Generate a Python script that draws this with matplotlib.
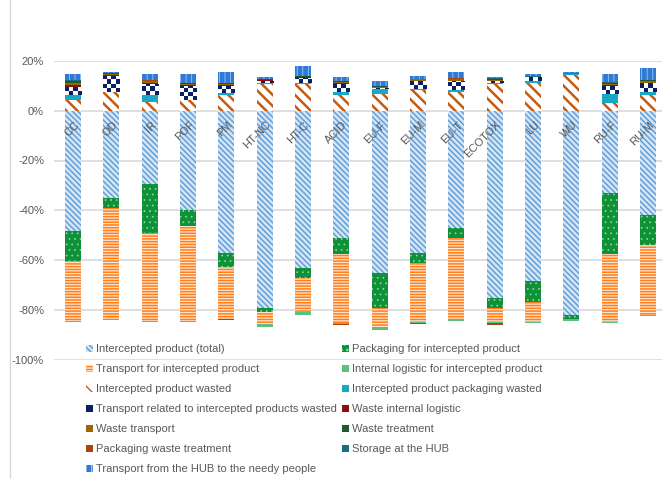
import numpy as np
import matplotlib
matplotlib.use("Agg")
import matplotlib.pyplot as plt
from matplotlib.lines import Line2D
from matplotlib.colors import ListedColormap
from matplotlib.ticker import FuncFormatter

plt.rcParams['font.family'] = ['Liberation Sans', 'DejaVu Sans']

# ---- data (% contribution per impact category) ----
categories = ["CC", "OD", "IR", "POF", "PM", "HT-NC", "HT-C", "ACID", "EU-F", "EU-M",
              "EU-T", "ECOTOX", "LU", "WU", "RU-F", "RU-M"]

intercepted_total = [-48.5, -34.9, -29.4, -39.8, -57.0, -79.4, -63.3, -51.2, -65.3, -57.3,
                     -47.2, -75.4, -68.3, -82.1, -33.1, -41.8]
packaging_intercepted = [-11.8, -4.1, -19.8, -6.7, -5.9, -1.7, -4.0, -6.3, -14.1, -4.0,
                         -4.0, -4.0, -8.4, -1.7, -24.4, -12.1]
transport_intercepted = [-24.4, -44.7, -35.5, -38.2, -20.8, -4.6, -13.8, -27.9, -8.0, -23.8,
                         -32.9, -5.7, -8.4, -0.2, -27.5, -28.2]
internal_logistic_intercepted = [-0.4, -0.4, -0.4, -0.4, -0.2, -1.3, -1.0, -0.2, -0.7, -0.2,
                                 -0.4, -0.3, -0.4, -0.5, -0.4, -0.5]
product_wasted = [4.3, 7.5, 3.5, 4.2, 6.4, 10.8, 10.9, 6.4, 6.7, 8.3,
                  7.7, 10.9, 11.2, 14.5, 3.2, 6.3]
packaging_wasted = [2.0, 0.2, 2.9, 0.3, 0.8, 0.3, 0.3, 1.1, 2.0, 0.6,
                    0.6, 0.3, 0.8, 0.3, 3.4, 1.3]
transport_wasted = [3.4, 6.2, 4.5, 5.5, 2.7, 1.0, 2.0, 3.4, 0.4, 3.0,
                    3.6, 0.7, 1.4, 0.1, 3.4, 3.4]
waste_internal_logistic = [0.8, 0.3, 0.3, 0.3, 0.3, 0.1, 0.2, 0.2, 0.2, 0.2,
                           0.2, 0.1, 0.1, 0.05, 0.3, 0.3]
waste_transport = [0.6, 0.6, 0.6, 0.6, 0.6, 0.2, 0.2, 0.6, 0.3, 0.5,
                   0.6, 0.3, 0.1, 0.05, 0.5, 0.6]
waste_treatment = [0.8, 0.3, 0.3, 0.2, 0.2, 0.3, 0.2, 0.2, 0.3, 0.2,
                   0.2, 0.4, 0.1, 0.05, 0.3, 0.3]
packaging_waste_treatment = [0.2, 0.1, 0.1, 0.1, -0.4, 0.05, 0.1, -0.6, 0.05, -0.3,
                             0.1, -0.8, 0.05, 0.05, 0.1, 0.1]
storage_hub = [0.2, 0.1, 0.2, 0.1, 0.1, 0.15, 0.1, 0.1, 0.1, 0.1,
               0.1, 0.3, 0.1, 0.05, 0.2, 0.2]
transport_hub_needy = [2.5, 0.3, 2.5, 3.3, 4.3, 0.5, 4.0, 1.4, 1.8, 1.2,
                       2.5, 0.6, 0.8, 0.3, 3.2, 4.5]

NAVY = "#0B1F65"
# label, values, face colour, hatch colour, hatch, hatch line width
series = [
    ("Intercepted product (total)", intercepted_total, "#D3E4F6", "#5B9BD5", "\\" * 6, 1.0),
    ("Packaging for intercepted product", packaging_intercepted, "#0F9137", "#8FD8A6", "...", 0.5),
    ("Transport for intercepted product", transport_intercepted, "#FF7F1E", "#FFE3CC", "------", 0.9),
    ("Internal logistic for intercepted product", internal_logistic_intercepted, "#5CC07E", None, None, 0),
    ("Intercepted product wasted", product_wasted, "white", "#C55A11", "\\" * 3, 1.8),
    ("Intercepted product packaging wasted", packaging_wasted, "#19A8C4", None, None, 0),
    ("Transport related to intercepted products wasted", transport_wasted, NAVY, None, None, 0),
    ("Waste internal logistic", waste_internal_logistic, "#8E0E0E", None, None, 0),
    ("Waste transport", waste_transport, "#9A6700", None, None, 0),
    ("Waste treatment", waste_treatment, "#1D5B2E", None, None, 0),
    ("Packaging waste treatment", packaging_waste_treatment, "#A8460F", None, None, 0),
    ("Storage at the HUB", storage_hub, "#1B6C80", None, None, 0),
    ("Transport from the HUB to the needy people", transport_hub_needy, "#2E7AD4", "#9CC6F2", "|||", 0.6),
]
CHECKER_SERIES = "Transport related to intercepted products wasted"

W, H = 662, 479
fig = plt.figure(figsize=(W / 100, H / 100), dpi=100)
ax = fig.add_axes([53.8 / W, 1 - 359.5 / H, 613.3 / W, 298.5 / H])
ax.set_xlim(-0.5, len(categories) - 0.5)
ax.set_ylim(-100, 20)

BAR_W = 0.42
# checker cell size: 4 cells across the bar width, square on screen
px_per_x = 613.3 / len(categories)
px_per_y = 298.5 / 120.0
cell_x = BAR_W / 4
cell_y = cell_x * px_per_x / px_per_y
checker_cmap = ListedColormap(["white", NAVY])

x = np.arange(len(categories))
pos_base = np.zeros(len(categories))
neg_base = np.zeros(len(categories))
handles = []
for label, vals, face, hcol, hatch, hlw in series:
    v = np.asarray(vals, dtype=float)
    bottom = np.where(v >= 0, pos_base, neg_base)
    edge = hcol if hatch else face
    bars = ax.bar(x, v, width=BAR_W, bottom=bottom, color=face, edgecolor=edge,
                  linewidth=0, hatch=hatch, label=label, zorder=2)
    if hatch:
        for b in bars:
            if hasattr(b, "set_hatch_linewidth"):
                b.set_hatch_linewidth(hlw)
    if label == CHECKER_SERIES:
        # navy/white checkerboard fill clipped to each bar segment
        for b in bars:
            x0, y0 = b.get_x(), b.get_y()
            h = b.get_height()
            if h <= 0:
                continue
            rows = int(np.ceil(h / cell_y)) + 1
            grid = (np.add.outer(np.arange(rows), np.arange(4)) % 2).astype(float)
            im = ax.imshow(grid, cmap=checker_cmap, vmin=0, vmax=1, origin="lower",
                           extent=(x0, x0 + BAR_W, y0, y0 + rows * cell_y),
                           interpolation="nearest", aspect="auto", zorder=2.1)
            im.set_clip_path(b)
    handles.append(bars)
    pos_base += np.where(v > 0, v, 0)
    neg_base += np.where(v < 0, v, 0)

ax.set_xlim(-0.5, len(categories) - 0.5)
ax.set_ylim(-100, 20)
ax.set_yticks(np.arange(-100, 21, 20))
ax.yaxis.set_major_formatter(FuncFormatter(lambda v, p: f"{v:.0f}%"))
ax.tick_params(axis="y", length=0, pad=7, labelsize=8, labelcolor="#595959")
ax.set_xticks([])
ax.yaxis.grid(True, color="#D9D9D9", linewidth=1.2)
ax.set_axisbelow(True)
for s in ax.spines.values():
    s.set_visible(False)

# rotated category names just below the zero line
for i, cat in enumerate(categories):
    ax.text(i + 0.03, -3.6, cat, rotation=45, ha="right", va="top",
            rotation_mode="anchor", fontsize=8, color="#595959", zorder=5)

# legend laid out row-wise in two columns
order = list(range(0, 13, 2)) + list(range(1, 13, 2))
fig.legend([handles[k] for k in order], [series[k][0] for k in order],
           ncol=2, loc="upper left", bbox_to_anchor=(86 / W, 1 - 344 / H),
           frameon=False, fontsize=8, labelcolor="#595959",
           handlelength=0.6, handleheight=0.6, handletextpad=0.3,
           columnspacing=0.45, labelspacing=0.9, borderpad=0, borderaxespad=0)

# chart-area border on the left
fig.add_artist(Line2D([10 / W, 10 / W], [0, 1], color="#D9D9D9", linewidth=1.0))

fig.savefig("out.png", dpi=100)
